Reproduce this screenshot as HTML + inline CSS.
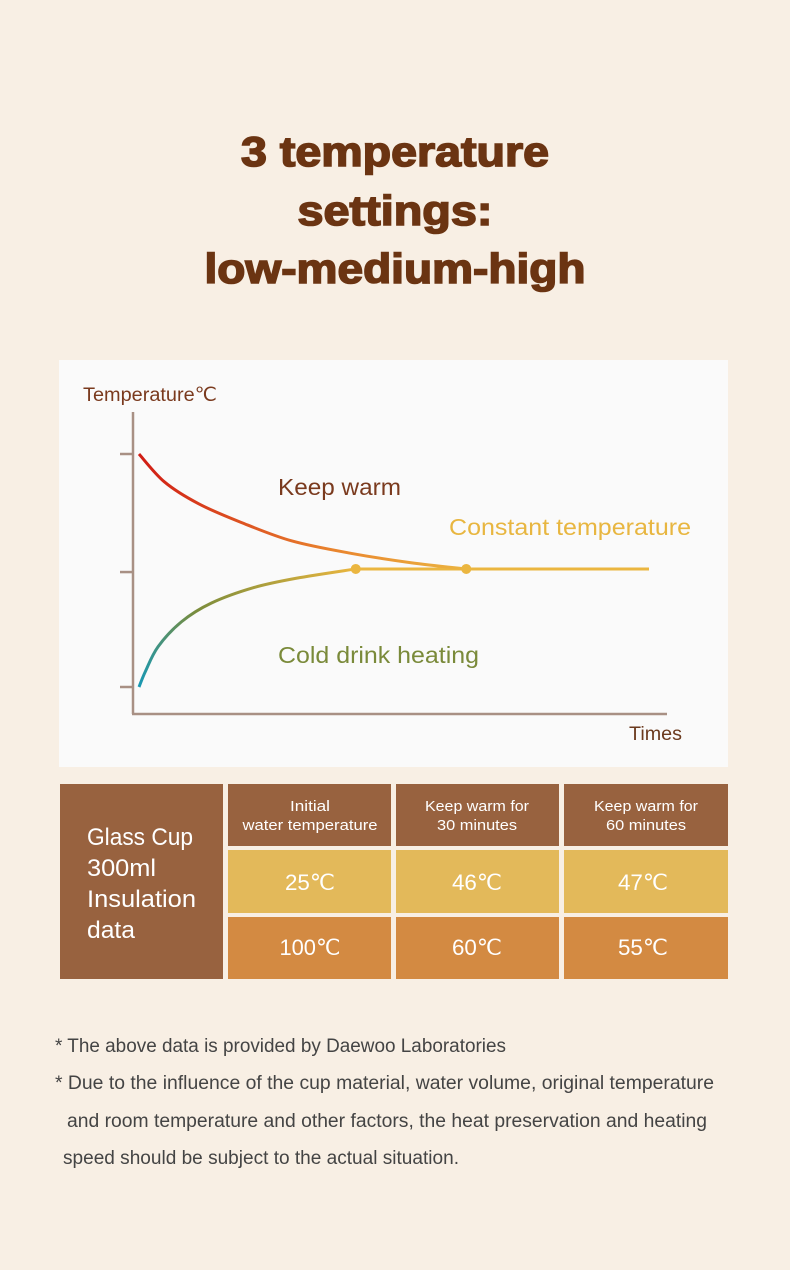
<!DOCTYPE html>
<html><head><meta charset="utf-8"><style>
html,body{margin:0;padding:0;background:#f8efe4;}
svg{display:block;font-family:"Liberation Sans",sans-serif;}
</style></head><body>
<svg id="page" width="790" height="1270" viewBox="0 0 790 1270">
<rect x="0" y="0" width="790" height="1270" fill="#f8efe4"/>
<g fill="#6b3412" stroke="#6b3412" stroke-width="1.6" font-weight="bold" font-size="42" text-anchor="middle">
<text x="395" y="166" textLength="308" lengthAdjust="spacingAndGlyphs">3 temperature</text>
<text x="395" y="225" textLength="195" lengthAdjust="spacingAndGlyphs">settings:</text>
<text x="395" y="283" textLength="381" lengthAdjust="spacingAndGlyphs">low-medium-high</text>
</g>
<rect x="59" y="360" width="669" height="407" fill="#fafafa"/>
<g id="chart">
<defs>
<linearGradient id="gWarm" gradientUnits="userSpaceOnUse" x1="139" y1="0" x2="465" y2="0">
<stop offset="0" stop-color="#d01c14"/><stop offset="0.6" stop-color="#e9852e"/><stop offset="1" stop-color="#ebb440"/></linearGradient>
<linearGradient id="gCold" gradientUnits="userSpaceOnUse" x1="139" y1="687" x2="356" y2="568">
<stop offset="0" stop-color="#1898b4"/><stop offset="0.35" stop-color="#7a8c3c"/><stop offset="1" stop-color="#ebb63e"/></linearGradient>
</defs>
</g>
<text x="83" y="401" font-size="19" fill="#7a3a1e" textLength="134" lengthAdjust="spacingAndGlyphs">Temperature℃</text>
<text x="629" y="740" font-size="19" fill="#6b3a1e" textLength="53" lengthAdjust="spacingAndGlyphs">Times</text>
<text x="278" y="495" font-size="23" fill="#7a3a1e" textLength="123" lengthAdjust="spacingAndGlyphs">Keep warm</text>
<text x="449" y="535" font-size="23" fill="#e8b640" textLength="242" lengthAdjust="spacingAndGlyphs">Constant temperature</text>
<text x="278" y="663" font-size="23" fill="#7a8a3a" textLength="201" lengthAdjust="spacingAndGlyphs">Cold drink heating</text>
<g>
<rect x="60" y="784" width="163" height="195" fill="#98623f"/>
<g fill="#fff" font-size="24">
<text x="87" y="845" textLength="106" lengthAdjust="spacingAndGlyphs">Glass Cup</text>
<text x="87" y="876" textLength="69" lengthAdjust="spacingAndGlyphs">300ml</text>
<text x="87" y="907" textLength="109" lengthAdjust="spacingAndGlyphs">Insulation</text>
<text x="87" y="938" textLength="48" lengthAdjust="spacingAndGlyphs">data</text>
</g>
<rect x="228" y="784" width="163" height="62" fill="#98623f"/>
<rect x="396" y="784" width="163" height="62" fill="#98623f"/>
<rect x="564" y="784" width="164" height="62" fill="#98623f"/>
<rect x="228" y="850" width="163" height="63" fill="#e3b95a"/>
<rect x="396" y="850" width="163" height="63" fill="#e3b95a"/>
<rect x="564" y="850" width="164" height="63" fill="#e3b95a"/>
<rect x="228" y="917" width="163" height="62" fill="#d38a42"/>
<rect x="396" y="917" width="163" height="62" fill="#d38a42"/>
<rect x="564" y="917" width="164" height="62" fill="#d38a42"/>
<g fill="#fff" font-size="15" text-anchor="middle">
<text x="310" y="811" textLength="40" lengthAdjust="spacingAndGlyphs">Initial</text>
<text x="310" y="830" textLength="135" lengthAdjust="spacingAndGlyphs">water temperature</text>
<text x="477" y="811" textLength="104" lengthAdjust="spacingAndGlyphs">Keep warm for</text>
<text x="477" y="830" textLength="80" lengthAdjust="spacingAndGlyphs">30 minutes</text>
<text x="646" y="811" textLength="104" lengthAdjust="spacingAndGlyphs">Keep warm for</text>
<text x="646" y="830" textLength="80" lengthAdjust="spacingAndGlyphs">60 minutes</text>
</g>
<g fill="#fff" font-size="22" text-anchor="middle">
<text x="310" y="890" textLength="50" lengthAdjust="spacingAndGlyphs">25℃</text>
<text x="477" y="890" textLength="50" lengthAdjust="spacingAndGlyphs">46℃</text>
<text x="643" y="890" textLength="50" lengthAdjust="spacingAndGlyphs">47℃</text>
<text x="310" y="955" textLength="61" lengthAdjust="spacingAndGlyphs">100℃</text>
<text x="477" y="955" textLength="50" lengthAdjust="spacingAndGlyphs">60℃</text>
<text x="643" y="955" textLength="50" lengthAdjust="spacingAndGlyphs">55℃</text>
</g>
</g>
<g fill="#444" font-size="19">
<text x="55" y="1052" textLength="451" lengthAdjust="spacingAndGlyphs">* The above data is provided by Daewoo Laboratories</text>
<text x="55" y="1089" textLength="659" lengthAdjust="spacingAndGlyphs">* Due to the influence of the cup material, water volume, original temperature</text>
<text x="67" y="1127" textLength="640" lengthAdjust="spacingAndGlyphs">and room temperature and other factors, the heat preservation and heating</text>
<text x="63" y="1164" textLength="396" lengthAdjust="spacingAndGlyphs">speed should be subject to the actual situation.</text>
</g>
</svg>
<script>
var tickValues = [25, 62, 100];
var keepWarmTimes = [0, 6, 14, 24, 36, 50, 64, 77];
var keepWarmTemps = [100, 91, 84, 78, 72, 68, 65, 63];
var coldTimes = [0, 1.5, 4.5, 10, 17, 27, 37, 51];
var coldTemps = [25, 30, 38, 46, 52, 57, 60, 63];
var constantStart = [51];
var constantEnd = [120];
var constantTemp = [63];
var markerTimes = [51, 77];

var NS = 'http://www.w3.org/2000/svg';
var chart = document.getElementById('chart');
function xs(t){ return 139 + t * (510 / 120); }
function ys(v){ return 687 - (v - 25) * (233 / 75); }
function mk(tag, attrs){ var e = document.createElementNS(NS, tag); for (var k in attrs) e.setAttribute(k, attrs[k]); chart.appendChild(e); return e; }
function smooth(ts, vs){
  var p = ts.map(function(t,i){ return [xs(t), ys(vs[i])]; });
  var d = 'M' + p[0][0] + ',' + p[0][1];
  for (var i = 0; i < p.length - 1; i++){
    var p0 = p[i-1] || p[i], p1 = p[i], p2 = p[i+1], p3 = p[i+2] || p2;
    var c1x = p1[0] + (p2[0]-p0[0])/6, c1y = p1[1] + (p2[1]-p0[1])/6;
    var c2x = p2[0] - (p3[0]-p1[0])/6, c2y = p2[1] - (p3[1]-p1[1])/6;
    d += ' C' + c1x + ',' + c1y + ' ' + c2x + ',' + c2y + ' ' + p2[0] + ',' + p2[1];
  }
  return d;
}
var yAxis = mk('line', {x1:133, y1:412, x2:133, y2:714, stroke:'#a89084', 'stroke-width':2.5});


var xAxis = mk('line', {x1:132, y1:714, x2:667, y2:714, stroke:'#a89084', 'stroke-width':2.5});


tickValues.forEach(function(v){
  var tk = mk('line', {x1:120, y1:ys(v), x2:133, y2:ys(v), stroke:'#a89084', 'stroke-width':2.5});
  
  
});
var cst = mk('line', {x1:xs(constantStart[0]), y1:ys(constantTemp[0]), x2:xs(constantEnd[0]), y2:ys(constantTemp[0]), stroke:'#ebb640', 'stroke-width':3});


var warm = mk('path', {d:smooth(keepWarmTimes, keepWarmTemps), fill:'none', stroke:'url(#gWarm)', 'stroke-width':3});


var cold = mk('path', {d:smooth(coldTimes, coldTemps), fill:'none', stroke:'url(#gCold)', 'stroke-width':3});


markerTimes.forEach(function(t){
  var c = mk('circle', {cx:xs(t), cy:ys(constantTemp[0]), r:5, fill:'#ebb640'});
  
  
});
</script>
</body></html>
